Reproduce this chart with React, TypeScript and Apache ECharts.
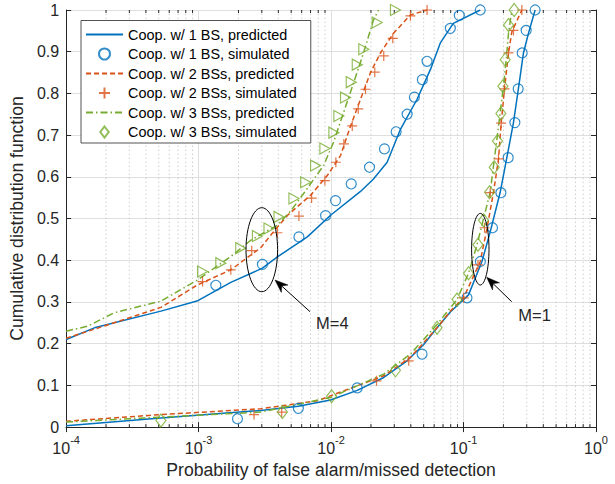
import React, { useEffect, useRef } from 'react';
import * as echarts from 'echarts';

const BLUE = '#0072BD';
const RED = '#D95319';
const GREEN = '#77AC30';
const AXIS = '#262626';
const FONT = '"Liberation Sans", Arial, Helvetica, sans-serif';

const legendNames = [
  'Coop. w/ 1 BS, predicted',
  'Coop. w/ 1 BS, simulated',
  'Coop. w/ 2 BSs, predicted',
  'Coop. w/ 2 BSs, simulated',
  'Coop. w/ 3 BSs, predicted',
  'Coop. w/ 3 BSs, simulated',
];
const hiddenName3Sim = 'Coop. w/ 3 BSs, simulated (M=4)';

const yTicks = [0, 0.1, 0.2, 0.3, 0.4, 0.5, 0.6, 0.7, 0.8, 0.9, 1];
const xDecades = [1e-4, 1e-3, 1e-2, 1e-1, 1];
const minorMultipliers = [2, 3, 4, 5, 6, 7, 8, 9];

// ---------- M = 4 ----------
const m4Bs1Pred = [
  [1e-4, 0.21], [1.634e-4, 0.238], [5.195e-4, 0.278], [9.87e-4, 0.303], [1.75e-3, 0.347],
  [3.033e-3, 0.381], [3.932e-3, 0.408], [6.619e-3, 0.456], [9.91e-3, 0.508], [1.668e-2, 0.565],
  [2.09e-2, 0.595], [2.651e-2, 0.635], [3.339e-2, 0.714], [4.459e-2, 0.786], [5.617e-2, 0.857],
  [6.68e-2, 0.921], [8.37e-2, 0.968], [0.1337, 1.0],
];
const m4Bs1Sim = [
  [1.349e-3, 0.34], [3.033e-3, 0.39], [5.72e-3, 0.456], [9.09e-3, 0.507], [1.081e-2, 0.543],
  [1.42e-2, 0.583], [1.95e-2, 0.623], [2.529e-2, 0.667], [3.099e-2, 0.708], [3.75e-2, 0.75],
  [4.256e-2, 0.791], [4.89e-2, 0.833], [5.305e-2, 0.877], [7.95e-2, 0.956], [9.29e-2, 0.987],
  [0.1337, 1.0],
];
const m4Bs2Pred = [
  [1e-4, 0.213], [2.299e-4, 0.25], [5.195e-4, 0.287], [9.82e-4, 0.341], [1.75e-3, 0.377],
  [2.944e-3, 0.43], [3.689e-3, 0.469], [4.702e-3, 0.508], [7.009e-3, 0.556], [9.36e-3, 0.603],
  [1.179e-2, 0.651], [1.403e-2, 0.722], [1.668e-2, 0.786], [1.985e-2, 0.85], [2.36e-2, 0.897],
  [2.958e-2, 0.944], [3.971e-2, 0.988], [5.305e-2, 1.0],
];
const m4Bs2Sim = [
  [1.071e-3, 0.349], [1.75e-3, 0.377], [2.518e-3, 0.423], [3.932e-3, 0.466], [5.72e-3, 0.506],
  [7.131e-3, 0.549], [8.98e-3, 0.591], [1.087e-2, 0.635], [1.249e-2, 0.679], [1.445e-2, 0.722],
  [1.603e-2, 0.763], [1.819e-2, 0.81], [2.138e-2, 0.851], [2.499e-2, 0.89], [2.922e-2, 0.932],
  [3.971e-2, 0.986], [5.305e-2, 1.0],
];
const m4Bs3Pred = [
  [1e-4, 0.23], [1.457e-4, 0.242], [2.299e-4, 0.274], [5.195e-4, 0.302], [9.82e-4, 0.353],
  [1.75e-3, 0.409], [2.475e-3, 0.448], [3.932e-3, 0.484], [4.953e-3, 0.518], [6.207e-3, 0.56],
  [8.78e-3, 0.627], [1.044e-2, 0.683], [1.242e-2, 0.754], [1.478e-2, 0.825], [1.757e-2, 0.897],
  [2.09e-2, 0.976], [2.279e-2, 1.0],
];
const m4Bs3Sim = [
  [1.071e-3, 0.373], [1.471e-3, 0.393], [2.08e-3, 0.429], [2.78e-3, 0.458], [3.4e-3, 0.476],
  [4.044e-3, 0.504], [5.244e-3, 0.548], [6.427e-3, 0.587], [7.642e-3, 0.627], [8.98e-3, 0.668],
  [1.05e-2, 0.706], [1.145e-2, 0.746], [1.286e-2, 0.79], [1.42e-2, 0.827], [1.576e-2, 0.869],
  [1.766e-2, 0.906], [2.228e-2, 0.97], [3.062e-2, 1.0],
];

// ---------- M = 1 ----------
const m1Bs1Pred = [
  [1e-4, 0.003], [5.195e-4, 0.022], [2.944e-3, 0.04], [5.662e-3, 0.05], [9.91e-3, 0.065],
  [1.576e-2, 0.088], [2.499e-2, 0.119], [3.75e-2, 0.159], [5.002e-2, 0.198], [6.31e-2, 0.238],
  [7.95e-2, 0.276], [0.1091, 0.317], [0.1377, 0.397], [0.159, 0.468], [0.1891, 0.563],
  [0.2185, 0.667], [0.2382, 0.73], [0.2527, 0.786], [0.2676, 0.841], [0.2834, 0.897],
  [0.309, 0.944], [0.3471, 1.0],
];
const m1Bs1Sim = [
  [1.965e-3, 0.02], [5.662e-3, 0.045], [1.576e-2, 0.094], [4.864e-2, 0.175], [0.1062, 0.31],
  [0.134, 0.397], [0.1655, 0.478], [0.1914, 0.562], [0.2173, 0.646], [0.2441, 0.73],
  [0.2585, 0.811], [0.2771, 0.897], [0.297, 0.951], [0.3471, 1.0],
];
const m1Bs2Pred = [
  [1e-4, 0.014], [5.195e-4, 0.03], [2.944e-3, 0.044], [7.87e-3, 0.063], [2.499e-2, 0.123],
  [3.971e-2, 0.167], [6.31e-2, 0.238], [7.95e-2, 0.278], [0.1001, 0.31], [0.1337, 0.397],
  [0.1502, 0.476], [0.1684, 0.563], [0.1837, 0.643], [0.1924, 0.729], [0.2038, 0.811],
  [0.2185, 0.897], [0.2317, 0.948], [0.2756, 1.0],
];
const m1Bs2Sim = [
  [2.621e-3, 0.03], [4.238e-3, 0.036], [2.202e-2, 0.111], [3.855e-2, 0.159], [0.1001, 0.31],
  [0.1285, 0.389], [0.1441, 0.478], [0.159, 0.562], [0.1837, 0.643], [0.1924, 0.729],
  [0.2038, 0.811], [0.2185, 0.897], [0.2382, 0.951], [0.2756, 1.0],
];
const m1Bs3Pred = [
  [1e-4, 0.012], [5.195e-4, 0.024], [2.944e-3, 0.036], [9.91e-3, 0.071], [2.499e-2, 0.127],
  [3.971e-2, 0.175], [6.31e-2, 0.246], [7.95e-2, 0.286], [8.93e-2, 0.306], [0.1091, 0.369],
  [0.1263, 0.437], [0.1416, 0.5], [0.159, 0.563], [0.1684, 0.627], [0.1786, 0.69],
  [0.1891, 0.754], [0.2003, 0.817], [0.2099, 0.881], [0.2185, 0.944], [0.2317, 1.0],
];
const m1Bs3Sim = [
  [5.195e-4, 0.016], [4.29e-3, 0.036], [1.009e-2, 0.074], [3.062e-2, 0.136], [6.31e-2, 0.238],
  [8.93e-2, 0.306], [0.1091, 0.369], [0.1285, 0.437], [0.1416, 0.496], [0.1571, 0.563],
  [0.1704, 0.623], [0.1805, 0.686], [0.1914, 0.752], [0.1982, 0.817], [0.2063, 0.881],
  [0.2185, 0.964], [0.2411, 1.0],
];

const minorTicks: number[][] = [];
xDecades.slice(0, 4).forEach((d) => minorMultipliers.forEach((m) => minorTicks.push([d * m, 0])));

const PLUS = 'path://M5,0 L5,10 M0,5 L10,5';
const TRI_RIGHT = 'path://M0,0 L10,5 L0,10 Z';
const DIAMOND = 'path://M5,0 L10,6.5 L5,13 L0,6.5 Z';

function predLine(name: string, data: number[][], color: string, type: any) {
  return {
    type: 'line', name, data, symbol: 'none', showSymbol: false, z: 3,
    lineStyle: { color, width: 1.5, type }, itemStyle: { color },
  };
}
function simScatter(name: string, data: number[][], color: string, symbol: string, size: any) {
  return {
    type: 'scatter', name, data, symbol, symbolSize: size, z: 4,
    itemStyle: { color: 'rgba(0,0,0,0)', borderColor: color, borderWidth: 1.2 },
  };
}

export default function App() {
  const ref = useRef<HTMLDivElement>(null);
  useEffect(() => {
    if (!ref.current) return;
    const chart = echarts.init(ref.current, undefined, { renderer: 'svg' });
    const expOf = (v: number) => Math.round(Math.log10(v));
    const legendData = legendNames.map((name, i) => {
      if (i % 2 === 0) return { name, itemStyle: { opacity: 0 } };
      if (i === 5) return { name, icon: DIAMOND };
      return { name };
    });
    chart.setOption({
      animation: false,
      backgroundColor: '#fff',
      textStyle: { fontFamily: FONT },
      grid: { left: 65, top: 10, right: 19, bottom: 55, containLabel: false },
      legend: {
        data: legendData,
        orient: 'vertical',
        left: 81, top: 20.5,
        padding: [6, 14, 3, 4],
        itemWidth: 37, itemHeight: 11, itemGap: 3.5,
        symbolKeepAspect: true,
        backgroundColor: '#fff', borderColor: AXIS, borderWidth: 0.8,
        textStyle: { fontSize: 14.4, color: '#000', fontFamily: FONT, lineHeight: 16 },
        selectedMode: false,
      },
      xAxis: [
        {
          type: 'log', logBase: 10, min: 1e-4, max: 1,
          name: 'Probability of false alarm/missed detection',
          nameLocation: 'middle', nameGap: 30,
          nameTextStyle: { fontSize: 17.6, color: AXIS, fontFamily: FONT },
          axisLine: { show: true, lineStyle: { color: AXIS, width: 1 } },
          axisTick: { show: true, inside: true, length: 5, lineStyle: { color: AXIS } },
          axisLabel: {
            margin: 7, color: AXIS,
            formatter: (v: number) => `{b|10}{s|${expOf(v)}}`,
            rich: {
              b: { fontSize: 16, fontFamily: FONT, color: AXIS, lineHeight: 22, verticalAlign: 'bottom' },
              s: { fontSize: 11, fontFamily: FONT, color: AXIS, lineHeight: 11, verticalAlign: 'top' },
            },
          },
          splitLine: { show: true, lineStyle: { color: '#dfdfdf', width: 1 } },
        },
        {
          type: 'log', logBase: 10, min: 1e-4, max: 1, position: 'top',
          axisLine: { show: true, lineStyle: { color: AXIS, width: 1 } },
          axisTick: { show: true, inside: true, length: 5, lineStyle: { color: AXIS } },
          axisLabel: { show: false }, splitLine: { show: false },
        },
      ],
      yAxis: [
        {
          type: 'value', min: 0, max: 1, interval: 0.1,
          name: 'Cumulative distribution function',
          nameLocation: 'middle', nameGap: 27,
          nameTextStyle: { fontSize: 17.6, color: AXIS, fontFamily: FONT },
          axisLine: { show: true, lineStyle: { color: AXIS, width: 1 } },
          axisTick: { show: true, inside: true, length: 5, lineStyle: { color: AXIS } },
          axisLabel: {
            margin: 7, fontSize: 16, color: AXIS, fontFamily: FONT,
            formatter: (v: number) => {
              const t = yTicks.find((k) => Math.abs(k - v) < 1e-9);
              const val = t === undefined ? v : t;
              return val === 0 ? '0' : val === 1 ? '1' : val.toFixed(1);
            },
          },
          splitLine: { show: true, lineStyle: { color: '#dfdfdf', width: 1 } },
        },
        {
          type: 'value', min: 0, max: 1, interval: 0.1, position: 'right',
          axisLine: { show: true, lineStyle: { color: AXIS, width: 1 } },
          axisTick: { show: true, inside: true, length: 5, lineStyle: { color: AXIS } },
          axisLabel: { show: false }, splitLine: { show: false },
        },
      ],
      series: [
        {
          type: 'custom', name: 'minor', silent: true, z: 1,
          data: minorTicks, encode: { x: 0, y: 1 },
          renderItem: (params: any, api: any) => {
            const v = api.value(0);
            const p0 = api.coord([v, 0]);
            const p1 = api.coord([v, 1]);
            return {
              type: 'group',
              children: [
                { type: 'line', shape: { x1: p0[0], y1: p0[1], x2: p1[0], y2: p1[1] },
                  style: { stroke: '#c4c4c4', lineWidth: 0.8, lineDash: [1.5, 2.5] } },
                { type: 'line', shape: { x1: p0[0], y1: p0[1], x2: p0[0], y2: p0[1] - 3 },
                  style: { stroke: AXIS, lineWidth: 1 } },
                { type: 'line', shape: { x1: p1[0], y1: p1[1], x2: p1[0], y2: p1[1] + 3 },
                  style: { stroke: AXIS, lineWidth: 1 } },
              ],
            };
          },
        },
        predLine(legendNames[0], m4Bs1Pred, BLUE, 'solid'),
        predLine(legendNames[0], m1Bs1Pred, BLUE, 'solid'),
        simScatter(legendNames[1], [...m4Bs1Sim, ...m1Bs1Sim], BLUE, 'circle', 10),
        predLine(legendNames[2], m4Bs2Pred, RED, [5, 3]),
        predLine(legendNames[2], m1Bs2Pred, RED, [5, 3]),
        simScatter(legendNames[3], [...m4Bs2Sim, ...m1Bs2Sim], RED, PLUS, 10),
        predLine(legendNames[4], m4Bs3Pred, GREEN, [7, 3, 1.5, 3]),
        predLine(legendNames[4], m1Bs3Pred, GREEN, [7, 3, 1.5, 3]),
        simScatter(legendNames[5], m1Bs3Sim, GREEN, DIAMOND, [10, 13]),
        simScatter(hiddenName3Sim, m4Bs3Sim, GREEN, TRI_RIGHT, [10, 11]),
      ],
      graphic: [
        { type: 'ellipse', z: 10, shape: { cx: 261.8, cy: 249.7, rx: 15.8, ry: 42 },
          style: { fill: 'none', stroke: '#000', lineWidth: 1 } },
        { type: 'line', z: 10, shape: { x1: 310, y1: 311.7, x2: 281.7, y2: 286 },
          style: { stroke: '#000', lineWidth: 1 } },
        { type: 'polygon', z: 10, shape: { points: [[275, 280], [288, 285], [281.7, 286], [281.3, 292.4]] },
          style: { fill: '#000', stroke: '#000', lineWidth: 0.5 } },
        { type: 'text', z: 10, x: 316, y: 322.7,
          style: { text: 'M=4', fontSize: 16.5, fontFamily: FONT, fill: AXIS, verticalAlign: 'middle', align: 'left' } },
        { type: 'ellipse', z: 10, shape: { cx: 480.3, cy: 249.2, rx: 8.7, ry: 35.8 },
          style: { fill: 'none', stroke: '#000', lineWidth: 1 } },
        { type: 'line', z: 10, shape: { x1: 511.7, y1: 301.7, x2: 493.1, y2: 283.6 },
          style: { stroke: '#000', lineWidth: 1 } },
        { type: 'polygon', z: 10, shape: { points: [[486.7, 277.3], [499.5, 282.8], [493.1, 283.6], [492.5, 290]] },
          style: { fill: '#000', stroke: '#000', lineWidth: 0.5 } },
        { type: 'text', z: 10, x: 518.3, y: 315,
          style: { text: 'M=1', fontSize: 16.5, fontFamily: FONT, fill: AXIS, verticalAlign: 'middle', align: 'left' } },
      ],
    });
    return () => chart.dispose();
  }, []);
  return (
    <div
      ref={ref}
      style={{ position: 'absolute', left: 0, top: 0, width: 615, height: 484 }}
    />
  );
}
